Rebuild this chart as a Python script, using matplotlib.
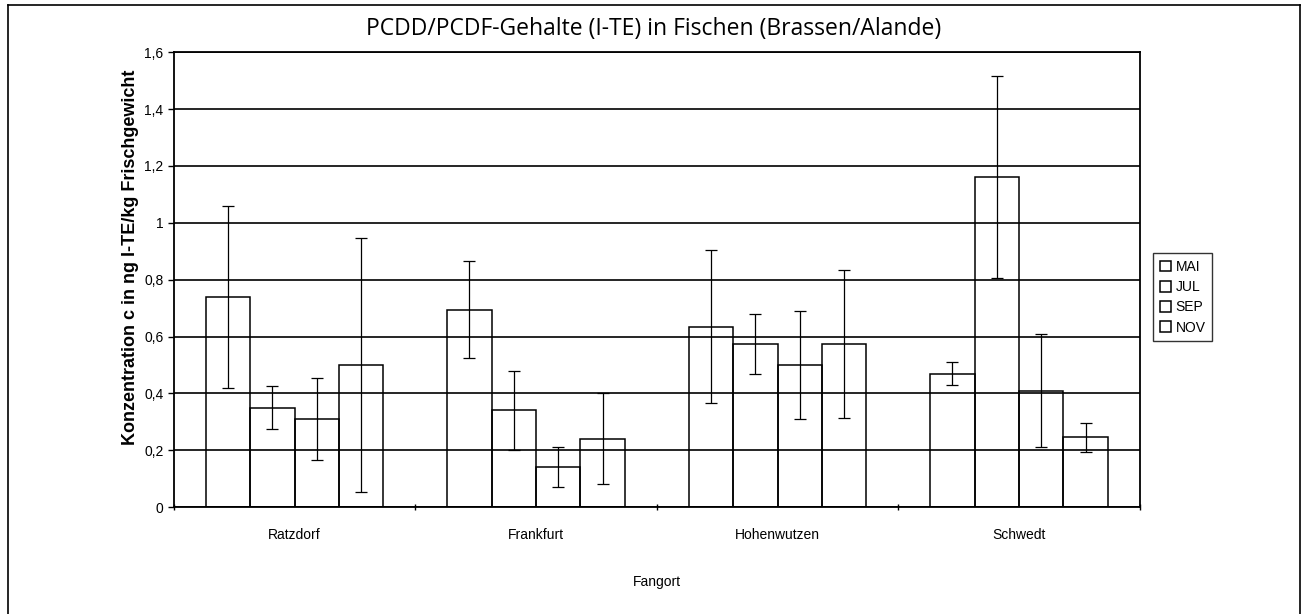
import matplotlib
matplotlib.use("Agg")
import matplotlib.pyplot as plt
import numpy as np

# Fangorte und Probenahmemonate
fangorte = ["Ratzdorf", "Frankfurt", "Hohenwutzen", "Schwedt"]
monate = ["MAI", "JUL", "SEP", "NOV"]

# Mittelwerte je Monat (ng I-TE/kg Frischgewicht)
mai = [0.74, 0.695, 0.635, 0.47]
jul = [0.35, 0.34, 0.575, 1.16]
sep = [0.31, 0.14, 0.50, 0.41]
nov = [0.50, 0.24, 0.575, 0.245]

# Fehlerbalken (Standardabweichung)
mai_err = [0.32, 0.17, 0.27, 0.04]
jul_err = [0.075, 0.14, 0.105, 0.355]
sep_err = [0.145, 0.07, 0.19, 0.20]
nov_err = [0.445, 0.16, 0.26, 0.05]

werte = [mai, jul, sep, nov]
fehler = [mai_err, jul_err, sep_err, nov_err]

plt.rcParams["font.family"] = ["Liberation Sans", "DejaVu Sans"]

fig = plt.figure(figsize=(13.07, 6.14), dpi=100)
ax = fig.add_axes([0.133, 0.174, 0.739, 0.741])

x = np.arange(len(fangorte))
breite = 0.184
for i, (m, w, f) in enumerate(zip(monate, werte, fehler)):
    pos = x + (i - 1.5) * breite
    ax.bar(pos, w, width=breite, facecolor="none", edgecolor="black",
           linewidth=1.1, label=m, zorder=3)
    ax.errorbar(pos, w, yerr=f, fmt="none", ecolor="black",
                elinewidth=0.9, capsize=4.5, capthick=0.9, zorder=4)

ax.set_xlim(-0.5, 3.5)
ax.set_ylim(0, 1.6)
ax.set_yticks(np.arange(0, 1.61, 0.2))
ax.set_yticklabels(["0", "0,2", "0,4", "0,6", "0,8", "1", "1,2", "1,4", "1,6"],
                   fontsize=10)
ax.yaxis.grid(True, color="black", linewidth=1.2, zorder=0)
ax.set_axisbelow(True)

# Kategorien-Beschriftung mittig, Ticks an den Grenzen
ax.set_xticks(x)
ax.set_xticklabels(fangorte, fontsize=10)
ax.tick_params(axis="x", length=0, pad=15)
ax.set_xticks(np.arange(-0.5, 3.6, 1), minor=True)
ax.tick_params(axis="x", which="minor", length=5, direction="inout", width=1)
ax.tick_params(axis="y", length=4, width=1, direction="out")

for s in ax.spines.values():
    s.set_linewidth(1.3)

ax.set_xlabel("Fangort", fontsize=10, labelpad=24)
ax.set_ylabel("Konzentration c in ng I-TE/kg Frischgewicht",
              fontsize=13, fontweight="bold")
ax.yaxis.set_label_coords(-0.036, 0.55)
fig.text(0.5, 0.953, "PCDD/PCDF-Gehalte (I-TE) in Fischen (Brassen/Alande)",
         ha="center", va="center", fontsize=16.5, fontweight="medium",
         family="Open Sans")

leg = ax.legend(loc="center left", bbox_to_anchor=(0.877, 0.516),
                bbox_transform=fig.transFigure, fontsize=10, frameon=True,
                fancybox=False, handlelength=0.8, handleheight=0.8,
                handletextpad=0.3, borderpad=0.5, labelspacing=0.45)
leg.get_frame().set_edgecolor("black")
leg.get_frame().set_linewidth(1.0)

# Rahmen um die ganze Grafik
fig.add_artist(plt.Line2D([0.006, 0.006], [0.0, 0.992], color="black",
                          linewidth=1.2, transform=fig.transFigure))
fig.add_artist(plt.Line2D([0.006, 0.995], [0.992, 0.992], color="black",
                          linewidth=1.2, transform=fig.transFigure))
fig.add_artist(plt.Line2D([0.995, 0.995], [0.0, 0.992], color="black",
                          linewidth=1.2, transform=fig.transFigure))

fig.savefig("out.png", dpi=100, facecolor="white")
